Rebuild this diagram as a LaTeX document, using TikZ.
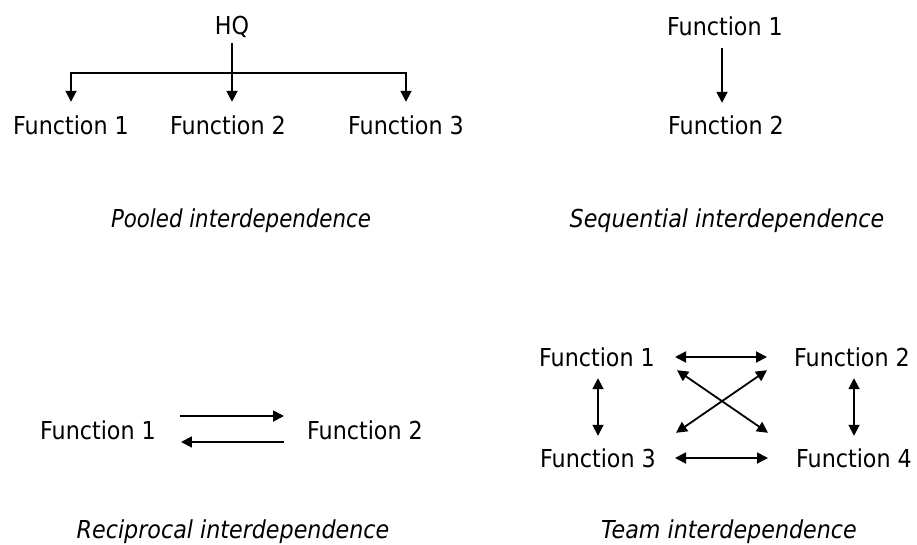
\documentclass[tikz,border=0pt]{standalone}
\usepackage{fontspec}
\setmainfont{DejaVu Sans Condensed}
\usetikzlibrary{arrows.meta,calc}

\tikzset{
  lbl/.style={font=\fontsize{24.7}{30}\selectfont, anchor=base, inner sep=0pt,
              text height=18pt, text depth=0pt},
  caption/.style={lbl, font=\fontsize{24.7}{30}\selectfont\itshape},
  conn/.style={line width=1.8pt},
  arr/.style={conn, -{Triangle[length=11pt,width=11pt]}},
  dbl/.style={conn, {Triangle[length=11pt,width=11pt]}-{Triangle[length=11pt,width=11pt]}}
}

\begin{document}
\begin{tikzpicture}[x=1pt, y=-1pt]
  \useasboundingbox (0,0) rectangle (917,545);

  % pooled interdependence
  \node[lbl] (hq) at (232,35) {HQ};
  \node[lbl] (p1) at (71,135) {Function 1};
  \node[lbl] (p2) at (228,135) {Function 2};
  \node[lbl] (p3) at (406,135) {Function 3};
  \coordinate (bar) at (232,73);
  \draw[arr] ([yshift=-8pt]hq.south) -- ($(hq.south |- p2.north)+(0,-15)$);
  \draw[dbl] ($(p1.north)+(0,-15)$) |- (bar) -| ($(p3.north)+(0,-15)$);
  \node[caption, xscale=0.96] (capP) at (241,228) {Pooled interdependence};

  % sequential interdependence
  \node[lbl] (s1) at (725,36) {Function 1};
  \node[lbl] (s2) at (726,135) {Function 2};
  \draw[arr] ($(s1.south)+(-3,12)$) -- ($(s1.south |- s2.north)+(-3,-14)$);
  \node[caption] (capS) at (727,228) {Sequential interdependence};

  % reciprocal interdependence
  \node[lbl] (r1) at (98,439) {Function 1};
  \node[lbl] (r2) at (365,439) {Function 2};
  \draw[arr] ($(r1.east)+(24,-14)$) -- ($(r2.west)+(-23,-14)$);
  \draw[arr] ($(r2.west)+(-23,12)$) -- ($(r1.east)+(25,12)$);
  \node[caption] (capR) at (233,538) {Reciprocal interdependence};

  % team interdependence
  \node[lbl] (t1) at (597,366) {Function 1};
  \node[lbl] (t2) at (852,366) {Function 2};
  \node[lbl] (t3) at (598,467) {Function 3};
  \node[lbl] (t4) at (854,467) {Function 4};
  \draw[dbl] ($(t1.east)+(20,0)$) -- ($(t2.west)+(-27,0)$);
  \draw[dbl] ($(t3.east)+(19,0)$) -- ($(t4.west)+(-28,0)$);
  \draw[dbl] ($(t1.south)+(1,12)$) -- ($(t1.south |- t3.north)+(1,-13)$);
  \draw[dbl] ($(t2.south)+(2,12)$) -- ($(t2.south |- t4.north)+(2,-13)$);
  \draw[dbl] ($(t1.south east)+(22,4)$) -- ($(t4.north west)+(-28,-16)$);
  \draw[dbl] ($(t3.north east)+(20,-16)$) -- ($(t2.south west)+(-27,4)$);
  \node[caption] (capT) at (729,538) {Team interdependence};
\end{tikzpicture}
\end{document}
